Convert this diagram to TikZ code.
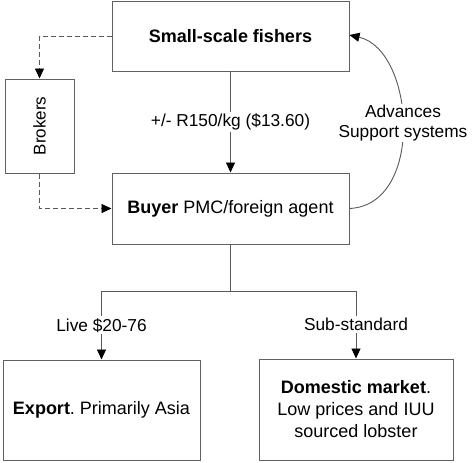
\documentclass[tikz,border=0pt]{standalone}
\usepackage{fontspec}
\setmainfont{Liberation Sans}
\usetikzlibrary{arrows.meta}
\begin{document}
\frenchspacing
\begin{tikzpicture}[x=1pt,y=-1pt,
  box/.style={draw=black!62,line width=1pt,rectangle,inner sep=0pt,align=center,
    font=\fontsize{18}{22}\selectfont},
  conn/.style={draw=black!65,line width=0.9pt,-{Triangle[length=10pt,width=9pt,color=black]}},
  plain/.style={draw=black!65,line width=0.9pt},
  dashconn/.style={conn,dash pattern=on 5pt off 3pt},
  lbl/.style={fill=white,inner sep=2pt,align=center,font=\fontsize{17.3}{20}\selectfont}]
\useasboundingbox (0,0) rectangle (472,463);
\node[box,minimum width=237pt,minimum height=70pt] (fishers) at (230.5,36) {\textbf{Small-scale fishers}};
\node[box,minimum width=69pt,minimum height=94pt,font=\fontsize{17}{20}\selectfont] (brokers) at (39.5,126) {\rotatebox{90}{Brokers}};
\node[box,minimum width=237pt,minimum height=71pt] (buyer) at (230.5,208.5) {\textbf{Buyer} PMC/foreign agent};
\node[box,minimum width=197pt,minimum height=100pt] (export) at (101.5,410) {\textbf{Export}. Primarily Asia};
\node[box,minimum width=194pt,minimum height=101pt] (domestic) at (356,409.5) {\textbf{Domestic market}.\\Low prices and IUU\\sourced lobster};
\draw[conn] (fishers.south) -- node[lbl] (price) {+/- R150/kg (\$13.60)} (buyer.north);
\draw[dashconn] (fishers.west) -| (brokers.north);
\draw[dashconn] (brokers.south) |- (buyer.west);
\draw[conn] (buyer.east) .. controls (425,205) and (415,50) .. ([yshift=1pt]fishers.east);
\node[lbl,inner sep=1pt] (adv) at (403,123) {Advances\\Support systems};
\coordinate (jn) at (230.5,291);
\draw[plain] (buyer.south) -- (jn);
\draw[conn] (jn) -| node[lbl,pos=0.75] (live) {Live \$20-76} (export.north);
\draw[conn] (jn) -| node[lbl,pos=0.75] (sub) {Sub-standard} (domestic.north);
\end{tikzpicture}
\end{document}
